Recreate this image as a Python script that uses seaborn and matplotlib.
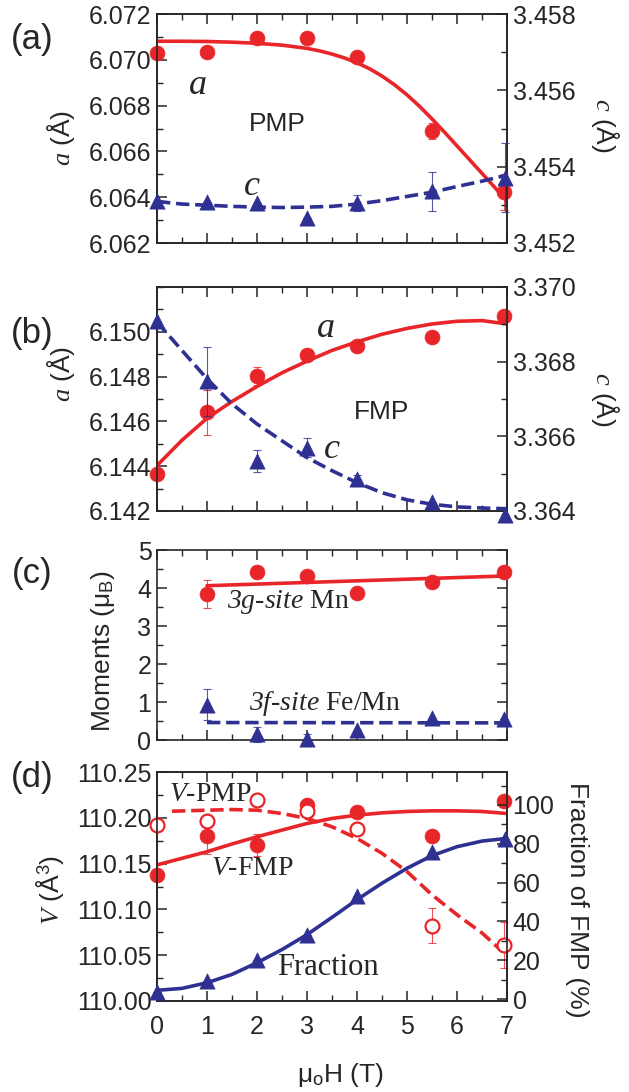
import numpy as np
import pandas as pd
import matplotlib
matplotlib.use("Agg")
import matplotlib.pyplot as plt
import seaborn as sns
from matplotlib.ticker import MultipleLocator, FormatStrFormatter, FixedLocator

# ---------------- data ----------------
H = [0, 1, 2, 3, 4, 5.5, 6.95]
fit_H = [0, 0.5, 1, 1.5, 2, 2.5, 3, 3.5, 4, 4.5, 5, 5.5, 6, 6.5, 7]

# (a) PMP lattice
a_pmp = [6.07029, 6.07036, 6.07096, 6.07096, 6.07014, 6.0669, 6.06422]
a_pmp_err = [0, 0, 0, 0, 0, 0.00035, 0.0008]
fit_H_a = [0, 0.5, 1, 1.5, 2, 2.5, 3, 3.25, 3.5, 3.75, 4, 4.25, 4.5, 4.75, 5,
           5.25, 5.5, 5.75, 6, 6.25, 6.5, 6.75, 7]
a_pmp_fit = [6.07081, 6.07081, 6.0708, 6.07077, 6.07072, 6.07064, 6.0705, 6.07039,
             6.07025, 6.07008, 6.06987, 6.06961, 6.06929, 6.06891, 6.06847, 6.06797,
             6.06742, 6.06684, 6.06624, 6.06564, 6.06504, 6.06444, 6.06384]
c_pmp = [3.45309, 3.45308, 3.45305, 3.45265, 3.45305, 3.45335, 3.45371]
c_pmp_err = [0, 0, 0, 0, 0.0002, 0.0005, 0.0009]
c_pmp_fit = [3.45309, 3.45302, 3.45299, 3.45296, 3.45294, 3.45293, 3.45294, 3.45296,
             3.45302, 3.45311, 3.45322, 3.45333, 3.45348, 3.45362, 3.45378]

# (b) FMP lattice
a_fmp = [6.14365, 6.14641, 6.14802, 6.14896, 6.14937, 6.14977, 6.15072]
a_fmp_err = [0, 0.001, 0.0004, 0, 0, 0, 0]
a_fmp_fit = [6.14403, 6.14516, 6.14614, 6.14689, 6.14756, 6.14817, 6.14869, 6.14917,
             6.14955, 6.14989, 6.15015, 6.15035, 6.15047, 6.1505, 6.15035]
c_fmp = [3.36908, 3.36747, 3.36534, 3.36570, 3.36487, 3.36424, 3.36390]
c_fmp_err = [0, 0.00093, 0.0003, 0.00025, 0.0001, 0, 0]
c_fmp_fit = [3.36906, 3.3683, 3.36754, 3.36687, 3.36633, 3.36588, 3.36543, 3.36508,
             3.36476, 3.36449, 3.3643, 3.36418, 3.36411, 3.36408, 3.36406]

# (c) moments
H_mom = [1, 2, 3, 4, 5.5, 6.95]
mom_Mn = [3.85, 4.41, 4.32, 3.86, 4.15, 4.41]
mom_Mn_err = [0.37, 0.15, 0.1, 0, 0, 0]
mom_Fe = [0.93, 0.15, 0.02, 0.26, 0.59, 0.56]
mom_Fe_err = [0.41, 0.2, 0.15, 0, 0, 0]
fit_H_mom = [1, 7.05]
mom_Mn_fit = [4.06, 4.32]
mom_Fe_fit = [0.46, 0.45]

# (d) volume and fraction
V_fmp = [110.138, 110.180, 110.170, 110.214, 110.206, 110.180, 110.218]
V_fmp_err = [0, 0.02, 0.012, 0, 0, 0, 0]
V_pmp = [110.192, 110.196, 110.219, 110.207, 110.188, 110.082, 110.061]
V_pmp_err = [0, 0, 0, 0, 0, 0.019, 0.025]
frac = [3.8, 9.3, 19.9, 33.2, 52.9, 75.6, 82.5]
V_fmp_fit = [110.1486, 110.1558, 110.163, 110.1714, 110.1793, 110.1866, 110.1938, 110.1993,
             110.2029, 110.2054, 110.2069, 110.2076, 110.2076, 110.2069, 110.2047]
fit_H_pmp = [0.3, 1, 1.5, 2, 2.5, 3, 3.5, 4, 4.5, 5, 5.5, 6, 6.5, 6.9]
V_pmp_fit = [110.2072, 110.2083, 110.209, 110.2083, 110.2047, 110.1993, 110.1902, 110.1775,
             110.1612, 110.1413, 110.1159, 110.0942, 110.0743, 110.0543]
frac_fit = [4.5, 5.5, 8.4, 12.7, 18.7, 25.5, 33.2, 42.1, 51.2, 59.7, 67.4, 73.9, 78.5, 81.4, 82.8]

x_ticks = [0, 1, 2, 3, 4, 5, 6, 7]

# ---------------- style ----------------
sns.set_style("ticks")
plt.rcParams['font.family'] = ['Liberation Sans', 'DejaVu Sans']
plt.rcParams['mathtext.fontset'] = 'custom'
plt.rcParams['mathtext.rm'] = 'Liberation Sans'
plt.rcParams['mathtext.it'] = 'Liberation Serif:italic'
plt.rcParams['mathtext.sf'] = 'Liberation Serif:italic'
plt.rcParams['mathtext.bf'] = 'Liberation Sans:bold'
plt.rcParams['axes.linewidth'] = 1.2

RED = '#E8262A'
BLUE = '#2E3192'
TICK = 18
SERIF = ['Liberation Serif', 'DejaVu Serif']

fig = plt.figure(figsize=(6.29, 10.92), dpi=100)
W = 629.0
Hpx = 1092.0
left = 157 / W
width = 350 / W


def rect(top, bottom):
    return [left, 1 - bottom / Hpx, width, (bottom - top) / Hpx]


def style_x(ax, labels=False):
    ax.set_xlim(0, 7)
    ax.xaxis.set_major_locator(FixedLocator(x_ticks))
    ax.xaxis.set_minor_locator(MultipleLocator(0.5))
    ax.tick_params(axis='x', which='both', direction='in', top=True, bottom=True,
                   labelbottom=labels, labelsize=TICK, pad=10)
    ax.tick_params(axis='x', which='major', length=7, width=1.1)
    ax.tick_params(axis='x', which='minor', length=4, width=1.0)
    ax.set_xlabel('')


def style_y(ax, lo, hi, major, minor, fmt, side='left', ticks=None, mirror=False):
    ax.set_ylim(lo, hi)
    if ticks is not None:
        ax.yaxis.set_major_locator(FixedLocator(ticks))
    else:
        ax.yaxis.set_major_locator(MultipleLocator(major))
    ax.yaxis.set_minor_locator(MultipleLocator(minor))
    ax.yaxis.set_major_formatter(FormatStrFormatter(fmt))
    if side == 'left':
        ax.tick_params(axis='y', which='both', direction='in', left=True, right=mirror,
                       labelsize=TICK, pad=4)
    else:
        ax.tick_params(axis='y', which='both', direction='in', right=True, left=False,
                       labelsize=TICK, pad=4)
    ax.tick_params(axis='y', which='major', length=7, width=1.1)
    ax.tick_params(axis='y', which='minor', length=4, width=1.0)
    ax.set_ylabel('')


def points(ax, x, y, err, color, marker, s, open_=False):
    ax.errorbar(x, y, yerr=err, fmt='none', ecolor=color, elinewidth=0.8,
                capsize=3, capthick=0.8, alpha=0.8, zorder=4, clip_on=False)
    df = pd.DataFrame({'x': x, 'y': y})
    if open_:
        sns.scatterplot(data=df, x='x', y='y', ax=ax, marker=marker, s=s,
                        facecolor='white', edgecolor=color, linewidth=1.6,
                        zorder=5, clip_on=False)
    else:
        sns.scatterplot(data=df, x='x', y='y', ax=ax, marker=marker, s=s,
                        color=color, edgecolor=color, linewidth=0.5,
                        zorder=5, clip_on=False)


def fit(ax, x, y, color, dashed=False):
    df = pd.DataFrame({'x': x, 'y': y})
    sns.lineplot(data=df, x='x', y='y', ax=ax, color=color, lw=2.6,
                 linestyle='--' if dashed else '-', sort=False, zorder=3)


# ---------------- (a) ----------------
axa = fig.add_axes(rect(14, 243))
axa2 = axa.twinx()
fit(axa, fit_H_a, a_pmp_fit, RED)
points(axa, H, a_pmp, a_pmp_err, RED, 'o', 115)
fit(axa2, fit_H, c_pmp_fit, BLUE, dashed=True)
points(axa2, H, c_pmp, c_pmp_err, BLUE, '^', 120)
style_x(axa)
style_y(axa, 6.062, 6.072, 0.002, 0.001, '%.3f')
style_y(axa2, 3.452, 3.458, 0.002, 0.001, '%.3f', side='right')
axa.text(0.8, 6.0689, '$a$', fontsize=26, ha='center', va='center')
axa.text(2.4, 6.0672, 'PMP', fontsize=19, ha='center', va='center')
axa.text(1.9, 6.0645, '$c$', fontsize=26, ha='center', va='center')
axa.text(-0.274, 0.46, '$a$ (Å)', transform=axa.transAxes, rotation=90,
         fontsize=19, ha='center', va='center')
axa2.text(1.28, 0.515, '$c$ (Å)', transform=axa2.transAxes, rotation=270,
          fontsize=19, ha='center', va='center')

# ---------------- (b) ----------------
axb = fig.add_axes(rect(287, 511))
axb2 = axb.twinx()
fit(axb, fit_H, a_fmp_fit, RED)
points(axb, H, a_fmp, a_fmp_err, RED, 'o', 115)
fit(axb2, fit_H, c_fmp_fit, BLUE, dashed=True)
points(axb2, H, c_fmp, c_fmp_err, BLUE, '^', 120)
style_x(axb)
style_y(axb, 6.142, 6.152, 0.002, 0.001, '%.3f',
        ticks=[6.142, 6.144, 6.146, 6.148, 6.150])
style_y(axb2, 3.364, 3.370, 0.002, 0.001, '%.3f', side='right')
axb.text(3.36, 6.1502, '$a$', fontsize=26, ha='center', va='center')
axb.text(4.5, 6.1464, 'FMP', fontsize=19, ha='center', va='center')
axb.text(3.5, 6.1448, '$c$', fontsize=26, ha='center', va='center')
axb.text(-0.274, 0.61, '$a$ (Å)', transform=axb.transAxes, rotation=90,
         fontsize=19, ha='center', va='center')
axb2.text(1.28, 0.5, '$c$ (Å)', transform=axb2.transAxes, rotation=270,
          fontsize=19, ha='center', va='center')

# ---------------- (c) ----------------
axc = fig.add_axes(rect(550, 740))
fit(axc, fit_H_mom, mom_Mn_fit, RED)
fit(axc, fit_H_mom, mom_Fe_fit, BLUE, dashed=True)
points(axc, H_mom, mom_Mn, mom_Mn_err, RED, 'o', 115)
points(axc, H_mom, mom_Fe, mom_Fe_err, BLUE, '^', 120)
style_x(axc)
style_y(axc, 0, 5, 1, 0.5, '%d', mirror=True)
axc.text(1.4, 3.63, r'$\mathsf{3g}$-$\mathsf{site}$ Mn', family=SERIF, fontsize=20,
         ha='left', va='center')
axc.text(1.84, 0.97, r'$\mathsf{3f}$-$\mathsf{site}$ Fe/Mn', family=SERIF, fontsize=20,
         ha='left', va='center')
axc.text(-0.154, 0.47, r'Moments (μ$_\mathrm{B}$)', transform=axc.transAxes, rotation=90,
         fontsize=19, ha='center', va='center')

# ---------------- (d) ----------------
axd = fig.add_axes(rect(772, 1001))
axd2 = axd.twinx()
fit(axd, fit_H, V_fmp_fit, RED)
fit(axd, fit_H_pmp, V_pmp_fit, RED, dashed=True)
points(axd, H, V_fmp, V_fmp_err, RED, 'o', 115)
points(axd, H, V_pmp, V_pmp_err, RED, 'o', 100, open_=True)
fit(axd2, fit_H, frac_fit, BLUE)
points(axd2, H, frac, [0] * len(frac), BLUE, '^', 120)
style_x(axd, labels=True)
style_y(axd, 110.00, 110.25, 0.05, 0.025, '%.2f')
style_y(axd2, -1, 117, 20, 10, '%d', side='right', ticks=[0, 20, 40, 60, 80, 100])
axd2.yaxis.set_minor_locator(FixedLocator([10, 30, 50, 70, 90, 110]))
axd.text(0.24, 110.225, '$V$-PMP', family=SERIF, fontsize=20, ha='left', va='center')
axd.text(1.08, 110.145, '$V$-FMP', family=SERIF, fontsize=20, ha='left', va='center')
axd.text(2.4, 110.037, 'Fraction', family=SERIF, fontsize=22, ha='left', va='center')
axd.text(-0.306, 0.485, '$V$ (Å$^{3}$)', transform=axd.transAxes, rotation=90,
         fontsize=19, ha='center', va='center')
axd2.text(1.2, 0.44, 'Fraction of FMP (%)', transform=axd2.transAxes, rotation=270,
          fontsize=19, ha='center', va='center')
fig.text(340 / W, 1 - 1075 / Hpx, r'μ$_\mathrm{o}$H (T)', fontsize=19, ha='center', va='center')

# panel letters
for lab, yy in [('(a)', 40), ('(b)', 333), ('(c)', 573), ('(d)', 778)]:
    fig.text(32 / W, 1 - yy / Hpx, lab, fontsize=25, ha='center', va='center')

fig.savefig('out.png', dpi=100)
